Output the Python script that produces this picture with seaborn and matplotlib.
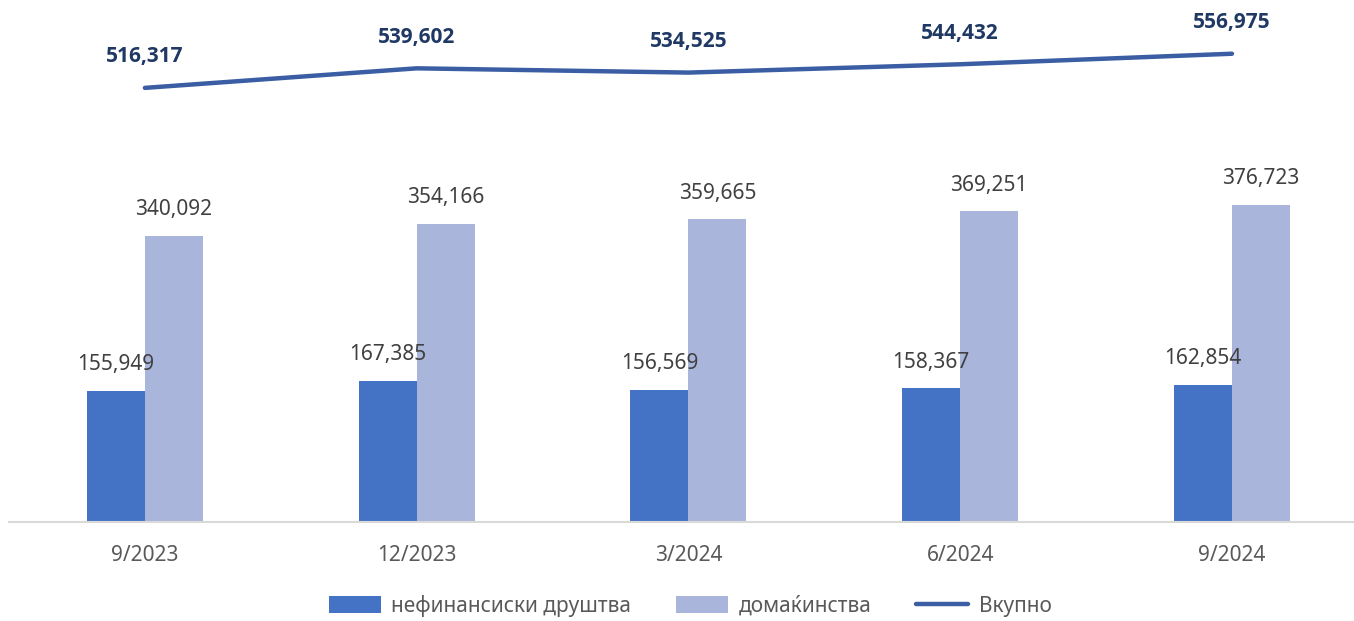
import numpy as np
import pandas as pd
import matplotlib
matplotlib.use("Agg")
import matplotlib.pyplot as plt
import seaborn as sns
from matplotlib.patches import Patch
from matplotlib.lines import Line2D

#### data ####
periods = ['9/2023', '12/2023', '3/2024', '6/2024', '9/2024']
nonfin = [155949, 167385, 156569, 158367, 162854]        # нефинансиски друштва
households = [340092, 354166, 359665, 369251, 376723]    # домаќинства
total = [516317, 539602, 534525, 544432, 556975]         # Вкупно

series_names = ['нефинансиски друштва', 'домаќинства', 'Вкупно']

#### colours ####
c_nonfin = '#4472C4'
c_house = '#A9B5DA'
c_line = '#3A5DA3'
c_total_lbl = '#1F3864'

sns.set_theme(style='white')
plt.rcParams['font.family'] = ['Noto Sans', 'DejaVu Sans']

df = pd.DataFrame({
    'period': periods * 2,
    'value': nonfin + households,
    'series': [series_names[0]] * 5 + [series_names[1]] * 5,
})

fig = plt.figure(figsize=(13.54, 6.21), dpi=100)
# axes placed in pixels: left 9, bottom at y=521.5, top at y=17.6
ax = fig.add_axes([9 / 1354, (621 - 521.5) / 621, 1345 / 1354, (521.5 - 17.6) / 621])

sns.barplot(data=df, x='period', y='value', hue='series', order=periods,
            hue_order=series_names[:2], palette=[c_nonfin, c_house],
            width=0.427, saturation=1, linewidth=0, ax=ax, legend=False)

# total line through category centers
sns.lineplot(x=np.arange(len(periods)), y=total, color=c_line, linewidth=3.2,
             ax=ax, legend=False)
ax.lines[-1].set_solid_capstyle('round')

# bar labels
for cont in ax.containers:
    for bar in cont:
        h = bar.get_height()
        ax.annotate(f'{int(round(h)):,}', (bar.get_x() + bar.get_width() / 2, h),
                    xytext=(0, 19), textcoords='offset points',
                    ha='center', va='center', fontsize=15, color='#404040')

# line labels (bold)
for i, v in enumerate(total):
    ax.annotate(f'{v:,}', (i, v), xytext=(0, 22.5), textcoords='offset points',
                ha='center', va='center', fontsize=15, fontweight='bold',
                family=['Open Sans', 'DejaVu Sans'], color=c_total_lbl)

ax.set_xlim(-0.5, 4.449)
ax.set_ylim(0, 600000)
ax.set_xlabel('')
ax.set_ylabel('')
ax.set_yticks([])
ax.tick_params(axis='x', length=0, pad=17, labelsize=15, labelcolor='#595959')
for s in ['top', 'right', 'left']:
    ax.spines[s].set_visible(False)
ax.spines['bottom'].set_color('#D9D9D9')
ax.spines['bottom'].set_linewidth(1.5)

handles = [Patch(facecolor=c_nonfin, edgecolor='none'),
           Patch(facecolor=c_house, edgecolor='none'),
           Line2D([], [], color=c_line, linewidth=3.2, solid_capstyle='round')]
leg = fig.legend(handles, series_names, loc='center', ncol=3, frameon=False,
                 bbox_to_anchor=(690 / 1354, 1 - 606 / 621), fontsize=15,
                 handlelength=2.5, handleheight=0.9, handletextpad=0.5,
                 columnspacing=2.15)
for t in leg.get_texts():
    t.set_color('#595959')

fig.savefig('out.png', dpi=100)
